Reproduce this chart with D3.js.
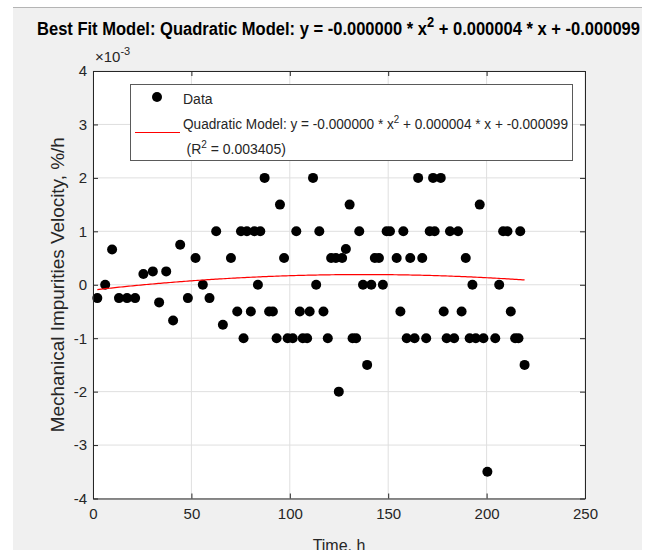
<!DOCTYPE html>
<html>
<head>
<meta charset="utf-8">
<script src="https://cdn.jsdelivr.net/npm/d3@7"></script>
<style>
  body { margin: 0; background: #fff; }
  text { font-family: "Liberation Sans", Arial, sans-serif; fill: #262626; }
</style>
</head>
<body>
<div id="wrapper"></div>
<script>
'use strict';

// time, h
const timeHours = [
  2.2, 6.2, 9.7, 13.2, 17.3, 21.4, 25.6, 30.4, 33.6, 37.2,
  40.7, 44.3, 48.2, 52.1, 55.8, 59.2, 62.6, 66, 70.1, 73.3,
  75.2, 76.5, 78.2, 80.2, 82, 83.8, 85, 87.2, 89.5, 91.4,
  93.3, 95, 97.1, 98.9, 101.5, 103.3, 105.1, 106.6, 108.8, 110.1,
  111.8, 113.4, 115, 117.1, 119.3, 121, 123.4, 124.9, 126.6, 128.5,
  130.4, 131.9, 133.7, 135.3, 137.2, 139.3, 141.4, 143.2, 145.3, 147.3,
  149.2, 150.9, 154.3, 156.2, 157.7, 159.4, 161.2, 163.4, 165.2, 167.3,
  169.3, 171.1, 172.8, 173.6, 176.7, 178.2, 179.7, 181.4, 183.5, 185.5,
  187.3, 189.4, 191.4, 192.8, 194.5, 196.5, 198.4, 200.4, 204.4, 206.4,
  208.4, 210.6, 212.3, 214.5, 216.2, 217.1, 219.3
];
// velocity, x10^-3 %/h
const velocity = [
  -0.25, 0, 0.66, -0.25, -0.25, -0.25, 0.2, 0.25, -0.33, 0.25,
  -0.67, 0.75, -0.25, 0.5, 0, -0.25, 1, -0.75, 0.5, -0.5,
  1, -1, 1, -0.5, 1, 0, 1, 2, -0.5, -0.5,
  -1, 1.5, 0.5, -1, -1, 1, -0.5, -1, -1, -0.5,
  2, 0, 1, -0.5, -1, 0.5, 0.5, -2, 0.5, 0.67,
  1.5, -1, -1, 1, 0, -1.5, 0, 0.5, 0.5, 0,
  1, 1, 0.5, -0.5, 1, -1, 0.5, -1, 2, 0.5,
  -1, 1, 2, 1, 2, -0.5, -1, 1, -1, 1,
  -0.5, 0.5, -1, 0, -1, 1.5, -1, -3.5, -1, 0,
  1, 1, -0.5, -1, -1, 1, -1.5
];
// quadratic fit coefficients [a, b, c] in x10^-3 units
const fitCoefs = [-1.528e-5, 0.00421, -0.099];

const xTicks = [0, 50, 100, 150, 200, 250];
const yTicks = [-4, -3, -2, -1, 0, 1, 2, 3, 4];

const dataset = timeHours.map((t, i) => ({t, v: velocity[i]}));

//#region DIMENSIONS
const dimensions = {
  width: 655,
  height: 550,
  margin: {top: 71, right: 70, bottom: 51.5, left: 93}
};
dimensions.plotWidth = dimensions.width - dimensions.margin.left - dimensions.margin.right;
dimensions.plotHeight = dimensions.height - dimensions.margin.top - dimensions.margin.bottom;
//#endregion

const svg = d3.select('#wrapper').append('svg')
  .attr('width', dimensions.width)
  .attr('height', dimensions.height);

// figure background
svg.append('rect')
  .attr('x', 13).attr('y', 7)
  .attr('width', 629).attr('height', 543)
  .attr('fill', '#f0f0f0');
svg.append('line')
  .attr('x1', 13).attr('x2', 642).attr('y1', 7.5).attr('y2', 7.5)
  .attr('stroke', '#b4b4b4');

const plot = svg.append('g')
  .attr('transform', `translate(${dimensions.margin.left},${dimensions.margin.top})`);

//#region SCALES
const xScale = d3.scaleLinear().domain([0, 250]).range([0, dimensions.plotWidth]);
const yScale = d3.scaleLinear().domain([-4, 4]).range([dimensions.plotHeight, 0]);
//#endregion

plot.append('rect')
  .attr('width', dimensions.plotWidth)
  .attr('height', dimensions.plotHeight)
  .attr('fill', '#fff');

// grid
plot.append('g').selectAll('line').data(xTicks).join('line')
  .attr('x1', d => xScale(d)).attr('x2', d => xScale(d))
  .attr('y1', 0).attr('y2', dimensions.plotHeight)
  .attr('stroke', '#dfdfdf');
plot.append('g').selectAll('line').data(yTicks).join('line')
  .attr('y1', d => yScale(d)).attr('y2', d => yScale(d))
  .attr('x1', 0).attr('x2', dimensions.plotWidth)
  .attr('stroke', '#dfdfdf');

//#region DATA
plot.append('g').selectAll('circle').data(dataset).join('circle')
  .attr('cx', d => xScale(d.t))
  .attr('cy', d => yScale(d.v))
  .attr('r', 5)
  .attr('fill', '#000');

const fit = x => fitCoefs[0] * x * x + fitCoefs[1] * x + fitCoefs[2];
const fitLine = d3.line()
  .x(d => xScale(d))
  .y(d => yScale(fit(d)));
const [tMin, tMax] = d3.extent(timeHours);
plot.append('path')
  .datum(d3.range(tMin, tMax, 1).concat([tMax]))
  .attr('d', fitLine)
  .attr('fill', 'none')
  .attr('stroke', '#ff0000')
  .attr('stroke-width', 1.2);
//#endregion

//#region AXES
const tickLen = 5;
const plainFormat = d => String(d);
const xAxis = plot.append('g')
  .attr('transform', `translate(0,${dimensions.plotHeight})`)
  .call(d3.axisBottom(xScale).tickValues(xTicks).tickFormat(plainFormat)
    .tickSizeInner(-tickLen).tickSizeOuter(0).tickPadding(10));
const xAxisTop = plot.append('g')
  .call(d3.axisTop(xScale).tickValues(xTicks).tickSizeInner(-tickLen).tickSizeOuter(0).tickFormat(''));
const yAxis = plot.append('g')
  .call(d3.axisLeft(yScale).tickValues(yTicks).tickFormat(plainFormat)
    .tickSizeInner(-tickLen).tickSizeOuter(0).tickPadding(10));
const yAxisRight = plot.append('g')
  .attr('transform', `translate(${dimensions.plotWidth},0)`)
  .call(d3.axisRight(yScale).tickValues(yTicks).tickSizeInner(-tickLen).tickSizeOuter(0).tickFormat(''));

[xAxis, xAxisTop, yAxis, yAxisRight].forEach(ax => {
  ax.select('.domain').attr('stroke', '#262626');
  ax.selectAll('.tick line').attr('stroke', '#262626');
  ax.selectAll('.tick text')
    .attr('fill', '#262626')
    .style('font-family', '"Liberation Sans", Arial, sans-serif')
    .style('font-size', '15px');
});
yAxis.selectAll('.tick text').attr('x', -6);

plot.append('text')
  .attr('x', 2).attr('y', -9)
  .style('font-size', '15px')
  .html('×10<tspan dy="-7" font-size="11px">-3</tspan>');

svg.append('text')
  .attr('x', dimensions.margin.left + dimensions.plotWidth / 2)
  .attr('y', 551)
  .attr('text-anchor', 'middle')
  .style('font-size', '16px')
  .text('Time, h');

svg.append('text')
  .attr('transform', `translate(64,${dimensions.margin.top + dimensions.plotHeight / 2}) rotate(-90)`)
  .attr('text-anchor', 'middle')
  .attr('textLength', 295)
  .attr('lengthAdjust', 'spacingAndGlyphs')
  .style('font-size', '18px')
  .text('Mechanical Impurities Velocity, %/h');

svg.append('text')
  .attr('x', 37).attr('y', 35)
  .attr('textLength', 603)
  .attr('lengthAdjust', 'spacingAndGlyphs')
  .style('font-size', '18px')
  .style('font-weight', 'bold')
  .style('fill', '#000')
  .html('Best Fit Model: Quadratic Model: y = -0.000000 * x<tspan dy="-8" font-size="14px">2</tspan><tspan dy="8"> + 0.000004 * x + -0.000099</tspan>');
//#endregion

//#region LEGEND
const legend = svg.append('g');
legend.append('rect')
  .attr('x', 130.5).attr('y', 84.5)
  .attr('width', 442).attr('height', 76)
  .attr('fill', '#fff')
  .attr('stroke', '#5a5a5a');
legend.append('circle')
  .attr('cx', 157).attr('cy', 97).attr('r', 5).attr('fill', '#000');
legend.append('text')
  .attr('x', 183).attr('y', 103.5)
  .style('font-size', '14px')
  .text('Data');
legend.append('line')
  .attr('x1', 135).attr('x2', 180).attr('y1', 132.5).attr('y2', 132.5)
  .attr('stroke', '#ff0000').attr('stroke-width', 1);
legend.append('text')
  .attr('x', 183).attr('y', 128.5)
  .attr('textLength', 385)
  .attr('lengthAdjust', 'spacingAndGlyphs')
  .style('font-size', '14px')
  .html('Quadratic Model: y = -0.000000 * x<tspan dy="-6" font-size="10px">2</tspan><tspan dy="6"> + 0.000004 * x + -0.000099</tspan>');
legend.append('text')
  .attr('x', 186.5).attr('y', 154)
  .style('font-size', '14px')
  .html('(R<tspan dy="-6" font-size="10px">2</tspan><tspan dy="6"> = 0.003405)</tspan>');
//#endregion
</script>
</body>
</html>
